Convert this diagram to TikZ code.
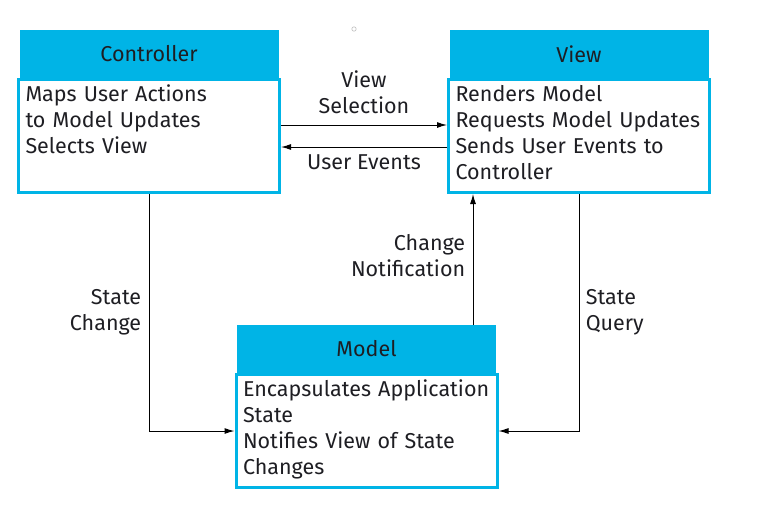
\documentclass[tikz,border=0pt]{standalone}
\usepackage{fontspec}
\setmainfont{Fira Sans}
\usepackage{tikz}
\usetikzlibrary{arrows.meta, positioning}

\definecolor{mvccyan}{RGB}{0,180,230}
\definecolor{mvctext}{RGB}{30,30,35}

\begin{document}
\begin{tikzpicture}[x=1pt, y=-1pt, >={Latex[length=10pt,width=6pt]},
    font=\fontsize{21.5}{26}\selectfont, text=mvctext,
    head/.style={draw=mvccyan, fill=mvccyan, line width=3pt, minimum width=256pt, minimum height=45pt},
    body/.style={draw=mvccyan, fill=white, line width=3pt, minimum width=256pt, text width=247pt,
        align=left, inner xsep=7pt, inner ysep=4pt, text height=18pt, text depth=87pt},
    link/.style={line width=1pt, ->}]

    \useasboundingbox (0,0) rectangle (765,514);

    % Nodes
    \node (ctrl) [head] at (149,54) {Controller};
    \node [below=0pt of ctrl] (ctrlb) [body] {Maps User Actions\\ to Model Updates\\ Selects View};

    \node (view) [head] at (579,54) {View};
    \node [below=0pt of view] (viewb) [body] {Renders Model\\ Requests Model Updates\\ Sends User Events to\\ Controller};

    \node (model) [head] at (366.5,349) {Model};
    \node [below=0pt of model] (modelb) [body] {Encapsulates Application\\ State\\ Notifies View of State\\ Changes};

    \draw[gray!50, line width=0.6pt] (354,29) circle (2.2pt); % small mark

    % Arrows and edge labels
    \draw[link] ([yshift=11pt]ctrlb.east) -- node[above=7pt, align=center] {View\\ Selection} ([yshift=11pt]viewb.west);
    \draw[link] ([yshift=-11pt]viewb.west) -- node[below=4pt] {User Events} ([yshift=-11pt]ctrlb.east);

    \draw[link] (ctrlb.south) |- node[pos=0.25, left=4pt, align=right] {State\\ Change} (modelb.west);
    \draw[link] (viewb.south) |- node[pos=0.25, right=3pt, align=left] {State\\ Query} (modelb.east);
    \draw[link] ([xshift=106.5pt]model.north) -- node[pos=0.53, left=4pt, align=right] {Change\\ Notification} ([xshift=106.5pt]model.north |- viewb.south);

\end{tikzpicture}
\end{document}
